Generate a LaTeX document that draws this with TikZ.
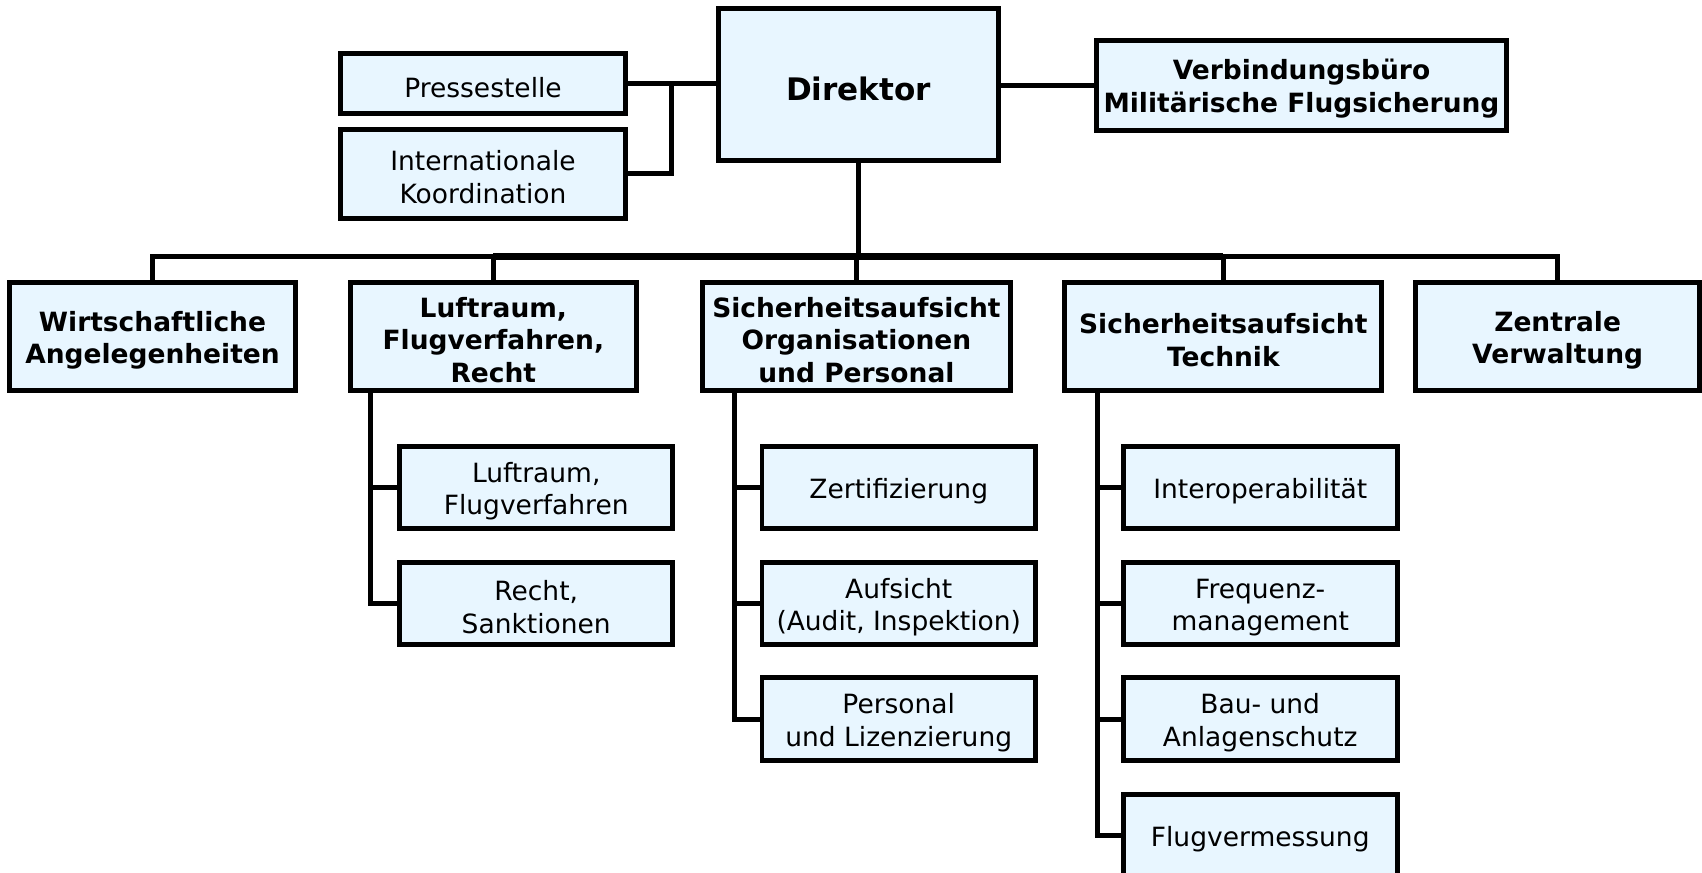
\documentclass[tikz,border=0pt]{standalone}
\usepackage{fontspec}
\setmainfont{DejaVu Sans}
\definecolor{boxfill}{RGB}{232,246,255}
\newcommand{\sdn}{\rule{0pt}{12.6pt}}
\newcommand{\sdnbig}{\rule{0pt}{14.9pt}}
\begin{document}
\begin{tikzpicture}[x=0.5pt,y=-0.5pt,
 box/.style={draw=black,line width=2.3pt,fill=boxfill,inner sep=0pt,align=center,font=\fontsize{12.2}{15}\selectfont},
 bbox/.style={box,font=\bfseries\fontsize{12.2}{14.9}\selectfont},
 subbox/.style={box,minimum width=126pt,minimum height=38pt},
 topbox/.style={bbox,minimum height=50pt},
 conn/.style={line width=2.3pt},
 busthick/.style={line width=3.2pt}]
\useasboundingbox (0,0) rectangle (1568,804);
% top
\node[bbox,minimum width=129pt,minimum height=70pt,font=\bfseries\fontsize{14.3}{17}\selectfont] (dir) at (791,78) {\sdnbig Direktor};
\node[box,minimum width=131pt,minimum height=28pt] (press) at (445,77) {\sdn Pressestelle};
\node[box,minimum width=131pt,minimum height=41pt] (intl) at (445,160) {\sdn Internationale\\Koordination};
\node[bbox,minimum width=189pt,minimum height=41.5pt] (verb) at (1199,78.5) {\sdn Verbindungsbüro\\Militärische Flugsicherung};
% second row
\node[topbox,minimum width=131.5pt] (wirt) at (140.5,310) {\sdn Wirtschaftliche\\Angelegenheiten};
\node[topbox,minimum width=131.5pt] (luft) at (454.5,310) {\sdn Luftraum,\\Flugverfahren,\\Recht};
\node[topbox,minimum width=142pt] (sorg) at (789,310) {\sdn Sicherheitsaufsicht\\Organisationen\\und Personal};
\node[topbox,minimum width=146pt] (stech) at (1127,310) {\sdn Sicherheitsaufsicht\\Technik};
\node[topbox,minimum width=131pt] (zent) at (1435,310) {\sdn Zentrale\\Verwaltung};
% sub boxes
\node[subbox] (l1) at (494,449) {\sdn Luftraum,\\Flugverfahren};
\node[subbox] (l2) at (494,556) {\sdn Recht,\\Sanktionen};
\node[subbox] (o1) at (828,449) {\sdn Zertifizierung};
\node[subbox] (o2) at (828,556) {\sdn Aufsicht\\(Audit, Inspektion)};
\node[subbox] (o3) at (828,662.5) {\sdn Personal\\und Lizenzierung};
\node[subbox] (t1) at (1161,449) {\sdn Interoperabilität};
\node[subbox] (t2) at (1161,556) {\sdn Frequenz-\\management};
\node[subbox] (t3) at (1161,662.5) {\sdn Bau- und\\Anlagenschutz};
\node[subbox] (t4) at (1161,770) {\sdn Flugvermessung};
% connectors top
\coordinate (j) at (619,77);
\draw[conn] (press.east) -- (press.east -| dir.west);
\draw[conn] (intl.east) -| (j);
\draw[conn] (dir.east |- verb.west) -- (verb.west);
\coordinate (bus) at (791,236);
\draw[conn] (dir.south) -- (bus);
\draw[conn] (wirt.north) |- (luft.north |- bus);
\draw[conn] (stech.north |- bus) -| (zent.north);
\draw[busthick] (luft.north |- bus) -- (stech.north |- bus);
\draw[conn] (luft.north |- bus) -- (luft.north);
\draw[conn] (sorg.north |- bus) -- (sorg.north);
\draw[conn] (stech.north |- bus) -- (stech.north);
% sub connectors
\coordinate (lc) at ([xshift=10.5pt]luft.south west);
\draw[conn] (lc) |- (l2.west);
\draw[conn] (l1.west) -- (l1.west -| lc);
\coordinate (oc) at ([xshift=16pt]sorg.south west);
\draw[conn] (oc) |- (o3.west);
\draw[conn] (o1.west) -- (o1.west -| oc);
\draw[conn] (o2.west) -- (o2.west -| oc);
\coordinate (tc) at ([xshift=16pt]stech.south west);
\draw[conn] (tc) |- (t4.west);
\draw[conn] (t1.west) -- (t1.west -| tc);
\draw[conn] (t2.west) -- (t2.west -| tc);
\draw[conn] (t3.west) -- (t3.west -| tc);
\end{tikzpicture}
\end{document}
